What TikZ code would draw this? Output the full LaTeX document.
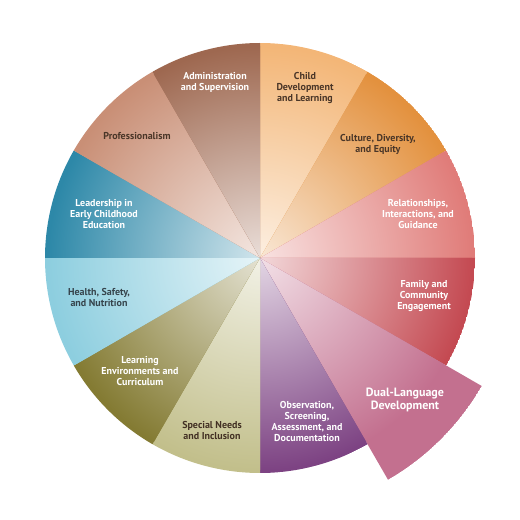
\documentclass[tikz,border=0pt]{standalone}
\usepackage{fontspec}
\setmainfont{PT Sans}
\definecolor{cChild}{HTML}{F3B677}
\definecolor{cCulture}{HTML}{E3913E}
\definecolor{cRel}{HTML}{E07C79}
\definecolor{cFam}{HTML}{C44A52}
\definecolor{cDual}{HTML}{C3708F}
\definecolor{cObs}{HTML}{7D4383}
\definecolor{cSpec}{HTML}{C2BF8B}
\definecolor{cLearn}{HTML}{847B33}
\definecolor{cHealth}{HTML}{8DCEDF}
\definecolor{cLead}{HTML}{2D88A8}
\definecolor{cProf}{HTML}{C98F76}
\definecolor{cAdmin}{HTML}{9E6850}
\definecolor{darktxt}{HTML}{4A3628}
\definecolor{slatetxt}{HTML}{36444C}
\begin{document}
\begin{tikzpicture}[x=1pt,y=1pt,
  lbl/.style={font=\bfseries\fontsize{10}{11}\selectfont, align=center, inner sep=0pt},
  wt/.style={lbl, text=white},
  dk/.style={lbl, text=darktxt}]
\useasboundingbox (0,0) rectangle (520,520);
\coordinate (C) at (260,262);
\foreach \a/\col/\r in {60/cChild/215, 30/cCulture/215, 0/cRel/215, -30/cFam/215,
  -60/cDual/256, -90/cObs/215, -120/cSpec/215, -150/cLearn/215, 180/cHealth/215,
  150/cLead/215, 120/cProf/215, 90/cAdmin/215}{
  \begin{scope}
    \clip (C) -- ++(\a:\r pt) arc[start angle=\a, delta angle=30, radius=\r pt] -- cycle;
    \fill[\col] (C) circle (\r pt);
    \shade[inner color=\col!22!white, outer color=\col] (C) circle (212pt);
  \end{scope}
}
\node[wt] (admin) at (215,437.5) {Administration\\and Supervision};
\node[dk] (prof) at (137,384) {Professionalism};
\node[wt] (lead) at (104,306) {Leadership in\\Early Childhood\\Education};
\node[lbl, text=slatetxt] (health) at (99,222.5) {Health, Safety,\\and Nutrition};
\node[wt] (learn) at (140,149) {Learning\\Environments and\\Curriculum};
\node[lbl, text=darktxt!90!black] (spec) at (212,89) {Special Needs\\and Inclusion};
\node[wt] (obs) at (307,98.5) {Observation,\\Screening,\\Assessment, and\\Documentation};
\node[wt, font=\bfseries\fontsize{12}{13}\selectfont] (dual) at (405,120) {Dual-Language\\Development};
\node[wt] (fam) at (424,224) {Family and\\Community\\Engagement};
\node[wt] (rel) at (418,305.5) {Relationships,\\Interactions, and\\Guidance};
\node[dk] (cult) at (378,375.5) {Culture, Diversity,\\and Equity};
\node[dk] (child) at (305,432) {Child\\Development\\and Learning};
\end{tikzpicture}
\end{document}
